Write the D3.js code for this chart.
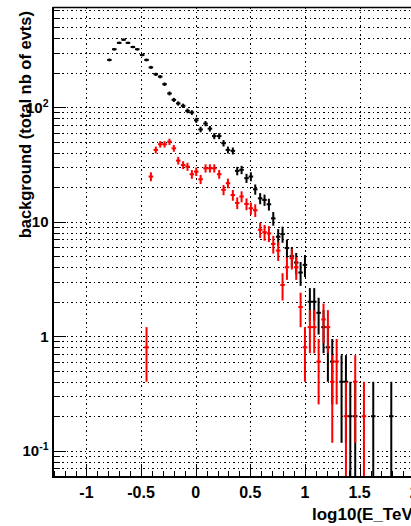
<!DOCTYPE html>
<html>
<head>
<meta charset="utf-8">
<script src="https://cdn.jsdelivr.net/npm/d3@7"></script>
<style>
    body { margin: 0; background: #fff; overflow: hidden; }
    svg { display: block; font-family: "Liberation Sans", Arial, sans-serif; font-weight: bold; }
    .grid line { stroke: #000; stroke-width: 1; stroke-dasharray: 1.5,3; shape-rendering: crispEdges; }
    .axis path { display: none; }
    .axis line { stroke: #000; stroke-width: 1; shape-rendering: crispEdges; }
</style>
</head>
<body>
<div id="containerChart"></div>
<script>
    // bin centres, log10(E_TeV)
    var bins = [-0.79, -0.745, -0.70, -0.66, -0.62, -0.575, -0.535, -0.49, -0.45, -0.41,
                -0.365, -0.325, -0.285, -0.24, -0.20, -0.16, -0.115, -0.075, -0.035, 0.005,
                0.045, 0.09, 0.13, 0.17, 0.215, 0.255, 0.295, 0.34, 0.38, 0.42,
                0.465, 0.505, 0.545, 0.59, 0.63, 0.67, 0.71, 0.755, 0.795, 0.835,
                0.88, 0.92, 0.96, 1.0, 1.045, 1.085, 1.125, 1.17, 1.21, 1.25,
                1.29, 1.335, 1.375, 1.415, 1.46, 1.50, 1.54, 1.58, 1.625, 1.665,
                1.71, 1.75, 1.79];

    var blackVals = [259, 321, 365, 389, 365, 336, 321, 286, 259, 223,
                     194, 185, 159, 132, 116, 108, 103, 93, 90, 77,
                     64, 72, 65, 56, 56, 48.5, 42.4, 41.6, 27.8, 28.4,
                     24, 24.8, 19.2, 16.0, 15.5, 14.2, 10.7, 7.4, 7.8, 5.9,
                     5.0, 4.4, 3.6, 4.2, 2.0, 2.0, 1.6, 1.2, 0.8, 0.6,
                     null, 0.4, 0.4, 0.2, 0.2, null, null, null, 0.2, null,
                     null, null, 0.2];

    var redVals = [null, null, null, null, null, null, null, null, 0.8, 24.8,
                   42.4, 47.5, 47.5, 50, 43.8, 34.2, 31.3, 30.3, 26, 27.4,
                   23.5, 29.3, 29.3, 29.3, 26, 19, 21.7, 17.1, 14.6, 16.6,
                   14.3, 13.1, 12.6, 8.5, 8.1, 7.9, 6.4, 5.6, 2.8, 4.0,
                   4.8, 4.0, 1.8, 0.8, 1.2, 1.2, 0.6, 1.4, 1.2, 0.4,
                   0.6, null, 0.2, null, 0.4, null, 0.2, null, null, null,
                   null, null, null];

    var evtWeight = 0.2;      // each event counts 0.2
    var halfBin = 0.0208;

    var xTickVals = [-1, -0.5, 0, 0.5, 1, 1.5, 2];
    var xTickText = ["-1", "-0.5", "0", "0.5", "1", "1.5", "2"];
    var yTickVals = [0.1, 1, 10, 100];
    var yTickText = [["10", "-1"], ["1", ""], ["10", ""], ["10", "2"]];

    var W = 411, H = 526;
    var frameL = 53, frameT = 7, frameB = 477, frameR = 447;

    var svg = d3.select("#containerChart")
        .append("svg")
        .attr("width", W)
        .attr("height", H);

    var x = d3.scaleLinear().domain([-1.306, 2.3]).range([frameL, frameR]);
    var y = d3.scaleLog().domain([0.0589, 751]).range([frameB, frameT]);

    // minor/major tick positions
    var yMinor = [];
    [-2, -1, 0, 1, 2].forEach(function (e) {
        for (var k = 1; k <= 9; k++) {
            var v = k * Math.pow(10, e);
            if (v >= y.domain()[0] && v <= y.domain()[1]) yMinor.push(v);
        }
    });
    var xMinor = d3.range(-13, 24).map(function (i) { return i / 10; });

    // grid
    var grid = svg.append("g").attr("class", "grid");
    grid.selectAll(".hg").data(yMinor).enter().append("line")
        .attr("x1", frameL).attr("x2", frameR)
        .attr("y1", function (d) { return Math.round(y(d)) + 0.5; })
        .attr("y2", function (d) { return Math.round(y(d)) + 0.5; });
    grid.selectAll(".vg").data(xTickVals).enter().append("line")
        .attr("y1", frameT).attr("y2", frameB)
        .attr("x1", function (d) { return Math.round(x(d)) + 0.5; })
        .attr("x2", function (d) { return Math.round(x(d)) + 0.5; });

    // ticks
    svg.append("g").attr("class", "axis")
        .attr("transform", "translate(" + frameL + ",0)")
        .call(d3.axisRight(y).tickValues(yMinor).tickSize(7).tickFormat(""));
    svg.append("g").attr("class", "axis")
        .attr("transform", "translate(" + frameL + ",0)")
        .call(d3.axisRight(y).tickValues(yTickVals).tickSize(13).tickFormat(""));
    svg.append("g").attr("class", "axis")
        .attr("transform", "translate(0," + frameB + ")")
        .call(d3.axisTop(x).tickValues(xMinor).tickSize(6).tickFormat(""));
    svg.append("g").attr("class", "axis")
        .attr("transform", "translate(0," + frameB + ")")
        .call(d3.axisTop(x).tickValues(xTickVals).tickSize(13).tickFormat(""));

    // error bars
    function drawSeries(vals, color) {
        var pts = bins.map(function (b, i) { return { x: b, v: vals[i] }; })
            .filter(function (d) { return d.v != null; });
        var g = svg.append("g").attr("stroke", color).attr("stroke-width", 2);
        pts.forEach(function (d) {
            var err = Math.sqrt(d.v * evtWeight);
            var lo = d.v - err > y.domain()[0] ? y(d.v - err) : frameB;
            g.append("line")
                .attr("x1", x(d.x)).attr("x2", x(d.x))
                .attr("y1", y(d.v + err)).attr("y2", lo);
            g.append("line")
                .attr("x1", x(d.x - halfBin)).attr("x2", x(d.x + halfBin))
                .attr("y1", y(d.v)).attr("y2", y(d.v));
        });
    }
    drawSeries(blackVals, "#000");
    drawSeries(redVals, "#ff0000");

    // frame
    svg.append("line").attr("x1", frameL).attr("x2", frameR).attr("y1", frameT + 0.5).attr("y2", frameT + 0.5)
        .attr("stroke", "#000").attr("stroke-width", 1.5);
    svg.append("line").attr("x1", frameL).attr("x2", frameL).attr("y1", frameT).attr("y2", frameB + 1)
        .attr("stroke", "#000").attr("stroke-width", 2);
    svg.append("line").attr("x1", frameL - 1).attr("x2", frameR).attr("y1", frameB).attr("y2", frameB)
        .attr("stroke", "#000").attr("stroke-width", 2);

    // tick labels
    svg.selectAll(".xl").data(xTickVals).enter().append("text")
        .attr("x", function (d) { return x(d); })
        .attr("y", 498)
        .attr("text-anchor", "middle")
        .style("font-size", "16px")
        .text(function (d, i) { return xTickText[i]; });

    yTickVals.forEach(function (v, i) {
        var t = svg.append("text")
            .attr("x", 48.5)
            .attr("y", y(v) + 5.5)
            .attr("text-anchor", "end")
            .style("font-size", "15px");
        t.append("tspan").text(yTickText[i][0]);
        if (yTickText[i][1]) {
            t.append("tspan").attr("dy", -6).style("font-size", "10.5px").text(yTickText[i][1]);
        }
    });

    // axis titles
    svg.append("text")
        .attr("x", 312)
        .attr("y", 520)
        .style("font-size", "17px")
        .text("log10(E_TeV)");

    svg.append("text")
        .attr("transform", "translate(31,11) rotate(-90)")
        .attr("text-anchor", "end")
        .style("font-size", "16.5px")
        .text("background (total nb of evts)");
</script>
</body>
</html>
